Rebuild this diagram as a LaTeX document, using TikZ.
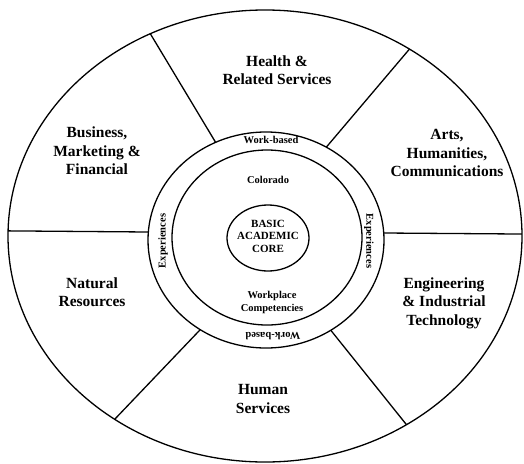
\documentclass[tikz,border=0pt]{standalone}
\usepackage{fontspec}
\setmainfont{Liberation Serif}
\usetikzlibrary{calc}

\begin{document}
\begin{tikzpicture}[
		x = 1pt, y = -1pt, % pixel-like units, y going down
		line width = 1.3pt, % line style
		line join = round
	]
	
	\tikzstyle{cluster}=[
	font = \fontsize{15.5}{18.5}\selectfont\bfseries,
	align = center
	]
	\tikzstyle{ringtext}=[
	font = \fontsize{10.5}{13}\selectfont\bfseries,
	align = center
	]
	
	\useasboundingbox (0,0) rectangle (524,463);
	
	% outer wheel
	\draw (265,236) ellipse [x radius=257pt, y radius=226pt];
	
	% spokes between the clusters (angle on the wheel / point on the ring)
	\foreach \a/\ix/\iy in {0.5/384/233, 55.8/329/144, 116.5/213/138,
		178.7/148/232, 234.2/198/332, 303.4/333/333} {
		\coordinate (o) at ({265+257*cos(\a)},{236-226*sin(\a)});
		\coordinate (i) at (\ix,\iy);
		\draw (o) -- ($(o)!1.15!(i)$);
	}
	
	% rings
	\draw[fill = white] (266,240) ellipse [x radius=118pt, y radius=108pt];
	\draw (267,237.5) ellipse [x radius=95pt, y radius=87.5pt];
	\draw (268,238) ellipse [x radius=41pt, y radius=33pt];
	
	% clusters
	\node[cluster] (health) at (277,70) {Health \&\\Related Services};
	\node[cluster] (business) at (97,151) {Business,\\Marketing \&\\Financial};
	\node[cluster] (arts) at (447,153) {Arts,\\Humanities,\\Communications};
	\node[cluster] (natural) at (92,292) {Natural\\Resources};
	\node[cluster] (engineering) at (444,303) {Engineering\\\& Industrial\\Technology};
	\node[cluster] (human) at (263,399) {Human\\Services};
	
	% ring labels
	\node[ringtext] (workTop) at (271,140) {Work-based};
	\node[ringtext, rotate = 180] (workBottom) at (273,336) {Work-based};
	\node[ringtext, rotate = 90] (expLeft) at (163,241) {Experiences};
	\node[ringtext, rotate = -90] (expRight) at (369,241) {Experiences};
	\node[ringtext] (colorado) at (268,180) {Colorado};
	\node[ringtext] (workplace) at (272,302) {Workplace\\Competencies};
	\node[ringtext, font = \fontsize{11}{12.5}\selectfont\bfseries] (core) at (268,236) {BASIC\\ACADEMIC\\CORE};
\end{tikzpicture}
\end{document}
